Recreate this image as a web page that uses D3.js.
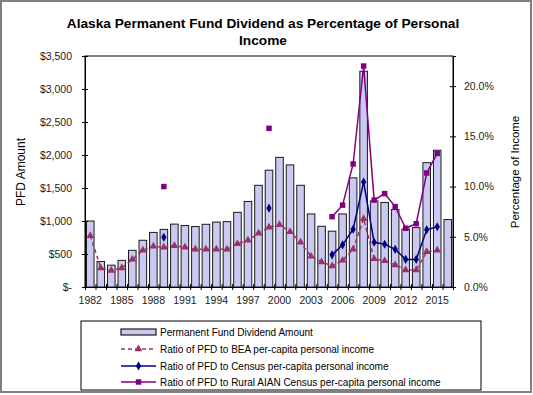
<!DOCTYPE html>
<html lang="en">
<head>
<meta charset="UTF-8">
<title>Alaska PFD as percentage of personal income</title>
<script src="https://d3js.org/d3.v7.min.js"></script>
<style>
  body{ margin:0; background:#fff; }
  .chart text{ font-family: "Liberation Sans", Arial, sans-serif; fill:#000; }
  .axis text{ font-size:10.5px; fill:#222; }
  .axis path, .axis line{ stroke:#000; }
</style>
</head>
<body>
<svg class="chart"></svg>
<script>
// data
const years = d3.range(1982, 2017);
const pfdAmount = [1000, 386, 331, 404, 556, 708, 827, 873, 953, 931, 916, 950, 984, 990,
  1131, 1296, 1541, 1770, 1964, 1850, 1541, 1107, 920, 846, 1107, 1654, 3269, 1305, 1281,
  1174, 878, 900, 1884, 2072, 1022];
const ratioBEA = [5.1, 1.9, 1.65, 1.9, 2.75, 3.65, 4.05, 3.95, 4.1, 3.95, 3.75, 3.75, 3.75, 3.75,
  4.3, 4.65, 5.35, 5.95, 6.2, 5.5, 4.45, 3.05, 2.5, 2.1, 2.65, 3.75, 6.8, 2.8, 2.6,
  2.2, 1.7, 1.7, 3.5, 3.65, null];
const ratioCensus = [null, null, null, null, null, null, null, 4.95, null, null, null, null, null, null,
  null, null, null, 7.85, null, null, null, null, null, 3.2, 4.2, 5.75, 10.45, 4.45, 4.25,
  3.75, 2.75, 2.75, 5.7, 6.0, null];
const ratioRural = [null, null, null, null, null, null, null, 10.0, null, null, null, null, null, null,
  null, null, null, 15.8, null, null, null, null, null, 7.0, 8.15, 12.25, 22.0, 8.65, 9.3,
  8.0, 5.85, 6.3, 11.35, 13.3, null];
const leftTicks = [0, 500, 1000, 1500, 2000, 2500, 3000, 3500];
const rightTicks = [0, 5, 10, 15, 20];
const labelYears = d3.range(1982, 2017, 3);
const legendLabels = ['Permanent Fund Dividend Amount',
  'Ratio of PFD to BEA per-capita personal income',
  'Ratio of PFD to Census per-capita personal income',
  'Ratio of PFD to Rural AIAN Census per-capita personal income'];

const W = 533, H = 395;
const plot = {left:85, right:453, top:56, bottom:287};

const svg = d3.select('.chart').attr('width', W).attr('height', H);

// outer frame
svg.append('rect').attr('x',1).attr('y',1).attr('width',530).attr('height',391)
  .attr('fill','#fff').attr('stroke','#808080').attr('stroke-width',2);

const x = d3.scaleBand().domain(years).range([plot.left, plot.right]).padding(0);
const yL = d3.scaleLinear().domain([0, 3500]).range([plot.bottom, plot.top]);
const yR = d3.scaleLinear().domain([0, 23]).range([plot.bottom, plot.top]);

// title
svg.append('text').attr('x',263).attr('y',28).attr('text-anchor','middle')
  .style('font-size','13.7px').style('font-weight','bold')
  .text('Alaska Permanent Fund Dividend as Percentage of Personal');
svg.append('text').attr('x',263).attr('y',45).attr('text-anchor','middle')
  .style('font-size','13.7px').style('font-weight','bold')
  .text('Income');

// plot area border
svg.append('rect').attr('x',plot.left).attr('y',plot.top)
  .attr('width',plot.right-plot.left).attr('height',plot.bottom-plot.top)
  .attr('fill','none').attr('stroke','#000').attr('stroke-width',1);

// bars
const bw = x.bandwidth()*0.72;
svg.append('g').selectAll('rect').data(years).enter().append('rect')
  .attr('x', (d)=> x(d) + (x.bandwidth()-bw)/2)
  .attr('y', (d,i)=> yL(pfdAmount[i]))
  .attr('width', bw)
  .attr('height', (d,i)=> plot.bottom - yL(pfdAmount[i]))
  .attr('fill','#c9c9f2').attr('stroke','#1a1a1a').attr('stroke-width',1);

// axes
const fmtDollar = (d)=> d === 0 ? '$-' : '$' + d3.format(',')(d);
const gL = svg.append('g').attr('class','axis')
  .attr('transform','translate('+plot.left+',0)')
  .call(d3.axisLeft(yL).tickValues(leftTicks).tickFormat(fmtDollar).tickSize(3).tickPadding(10));
gL.selectAll('.tick line').attr('x1',-3).attr('x2',3);

const gR = svg.append('g').attr('class','axis')
  .attr('transform','translate('+plot.right+',0)')
  .call(d3.axisRight(yR).tickValues(rightTicks).tickFormat((d)=> d.toFixed(1)+'%').tickSize(3).tickPadding(8));
gR.selectAll('.tick line').attr('x1',-3).attr('x2',3);

// category boundary ticks
const xb = d3.scaleLinear().domain([0, years.length]).range([plot.left, plot.right]);
const gB = svg.append('g').attr('class','axis')
  .attr('transform','translate(0,'+plot.bottom+')')
  .call(d3.axisBottom(xb).tickValues(d3.range(years.length+1)).tickFormat('').tickSize(3));
gB.selectAll('.tick line').attr('y1',-3).attr('y2',3);

svg.append('g').attr('class','axis')
  .attr('transform','translate(0,'+plot.bottom+')')
  .call(d3.axisBottom(x).tickValues(labelYears).tickSize(0).tickPadding(10))
  .select('.domain').remove();

// axis titles
svg.append('text').attr('transform','translate(25,172) rotate(-90)')
  .attr('text-anchor','middle').style('font-size','12px').text('PFD Amount');
svg.append('text').attr('transform','translate(519,172) rotate(-90)')
  .attr('text-anchor','middle').style('font-size','11.5px').text('Percentage of Income');

// lines
const series = [
  {vals: ratioBEA, color:'#993366', dash:'4,3', sym:d3.symbolTriangle, size:26},
  {vals: ratioCensus, color:'#000080', dash:null, sym:d3.symbolDiamond, size:24},
  {vals: ratioRural, color:'#800080', dash:null, sym:d3.symbolSquare, size:30}
];
const cx = (i)=> x(years[i]) + x.bandwidth()/2;
series.forEach((s)=>{
  const line = d3.line().defined((d)=> d != null)
    .x((d,i)=> cx(i)).y((d)=> yR(d));
  svg.append('path').datum(s.vals).attr('d', line)
    .attr('fill','none').attr('stroke', s.color).attr('stroke-width',1.5)
    .attr('stroke-dasharray', s.dash);
  svg.append('g').selectAll('path')
    .data(s.vals.map((v,i)=>({v:v,i:i})).filter((d)=> d.v != null))
    .enter().append('path')
    .attr('d', d3.symbol().type(s.sym).size(s.size))
    .attr('transform',(d)=>'translate('+cx(d.i)+','+yR(d.v)+')')
    .attr('fill', s.color);
});

// legend
const lg = svg.append('g');
lg.append('rect').attr('x',81).attr('y',321).attr('width',400).attr('height',69)
  .attr('fill','#fff').attr('stroke','#000').attr('stroke-width',1);
const rowY = [332, 349, 366, 382];
lg.append('rect').attr('x',121).attr('y',rowY[0]-3).attr('width',35).attr('height',6)
  .attr('fill','#c9c9f2').attr('stroke','#1a1a1a').attr('stroke-width',1.2);
series.forEach((s,k)=>{
  const yy = rowY[k+1];
  lg.append('line').attr('x1',121).attr('x2',156).attr('y1',yy).attr('y2',yy)
    .attr('stroke', s.color).attr('stroke-width',1.5).attr('stroke-dasharray', s.dash);
  lg.append('path').attr('d', d3.symbol().type(s.sym).size(s.size))
    .attr('transform','translate(138.5,'+yy+')').attr('fill', s.color);
});
legendLabels.forEach((t,k)=>{
  lg.append('text').attr('x',160).attr('y',rowY[k]+3.5).style('font-size','10px').text(t);
});
</script>
</body>
</html>
